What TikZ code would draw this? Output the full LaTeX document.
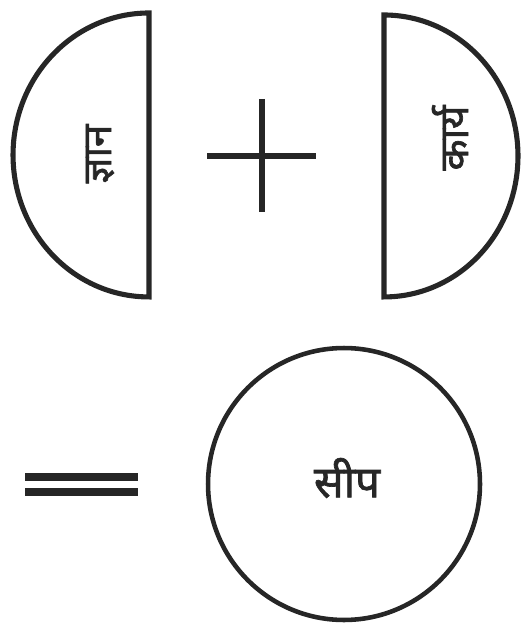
\documentclass[tikz,border=0pt]{standalone}
\usepackage{fontspec}
\newfontfamily\deva[Script=Devanagari, FakeBold=1.6]{Noto Sans}
\definecolor{inkgray}{HTML}{262626}
\usetikzlibrary{positioning}
\tikzset{
  outline/.style={line width=2.9pt, draw=inkgray},
  bar/.style={line width=3.4pt, draw=inkgray},
  word/.style={font=\deva\fontsize{23}{23}\selectfont, text=inkgray, inner sep=0pt},
}
\begin{document}
\begin{tikzpicture}[x=0.02cm, y=-0.02cm]
  \useasboundingbox (0,0) rectangle (521,624);
  % Left half disc
  \draw[outline] (149,13) arc[start angle=90, end angle=270, x radius=2.72cm, y radius=2.84cm] -- cycle;
  \node[word, rotate=90] (jnana) at (100,154) {ज्ञान};
  % Plus
  \coordinate (plusW) at (207,156);
  \coordinate (plusE) at (316,156);
  \coordinate (plusN) at (262,99);
  \coordinate (plusS) at (262,212);
  \draw[bar] (plusW) -- (plusE);
  \draw[bar] (plusN) -- (plusS);
  % Right half disc
  \draw[outline] (384,15) arc[start angle=90, end angle=-90, x radius=2.68cm, y radius=2.82cm] -- cycle;
  \node[word, rotate=90] (karya) at (450,138) {कार्य};
  % Equals
  \coordinate (eqTopW) at (25,477);
  \coordinate (eqTopE) at (138,477);
  \coordinate (eqBotW) at (25,492);
  \coordinate (eqBotE) at (138,492);
  \draw[bar, line width=4.4pt] (eqTopW) -- (eqTopE);
  \draw[bar, line width=4.4pt] (eqBotW) -- (eqBotE);
  % Result circle
  \draw[outline, line width=2.6pt] (344,484) circle (2.72cm);
  \node[word, font=\deva\fontsize{25}{25}\selectfont] (seep) at (347,478) {सीप};
\end{tikzpicture}
\end{document}
